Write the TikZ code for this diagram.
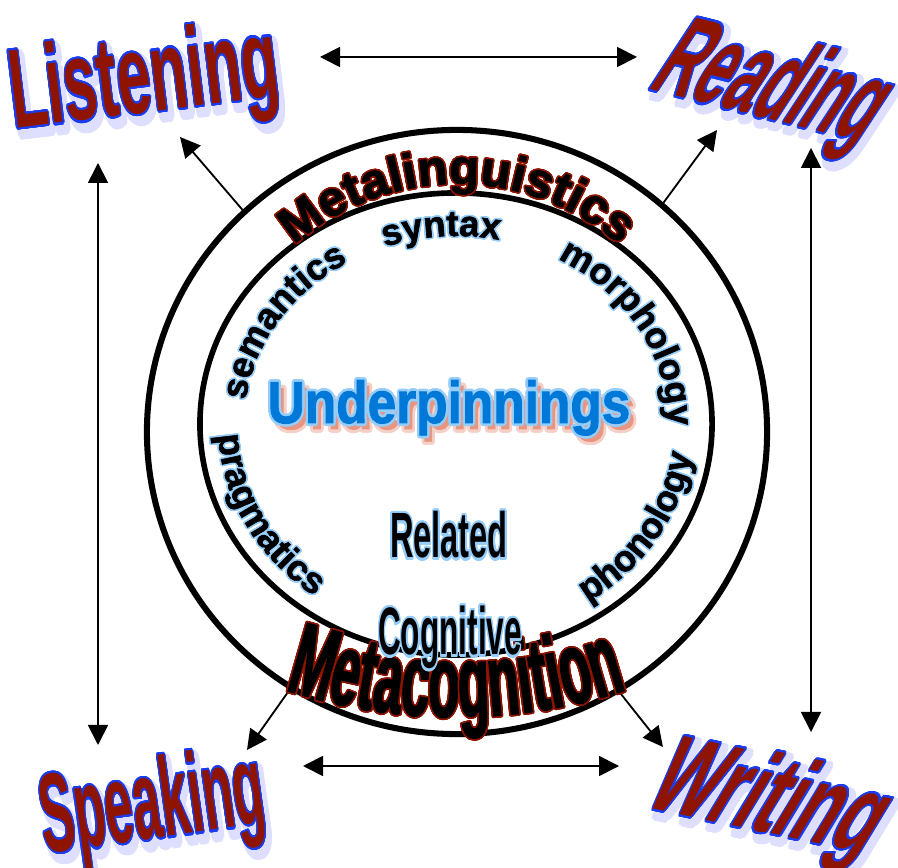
\documentclass[tikz,border=0pt]{standalone}
\usepackage{fontspec}
\usepackage{contour}
\usetikzlibrary{arrows.meta,shapes.geometric,decorations.text}

\setmainfont{Liberation Sans}
\newfontfamily\heavyfont{Liberation Sans Bold}[FakeBold=1.6]
\newfontfamily\narrowfont{Liberation Sans Bold}[FakeStretch=0.5,FakeBold=1.4]

\definecolor{wordred}{RGB}{142,20,0}
\definecolor{wordblue}{RGB}{25,60,240}
\definecolor{haze}{RGB}{222,222,255}
\definecolor{skyline}{RGB}{150,205,250}
\definecolor{pinblue}{RGB}{0,120,215}
\definecolor{pinshadow}{RGB}{232,150,130}

\contournumber{24}

% outlined text
\newcommand{\skillword}[1]{\contourlength{1.6pt}\contour{wordblue}{\textcolor{wordred}{#1}}}
\newcommand{\skillhaze}[1]{\contourlength{4.5pt}\contour{haze}{\textcolor{haze}{#1}}}
\newcommand{\metaletter}[1]{\contourlength{1.1pt}\contour{wordred}{\textcolor{black}{#1}}}
\newcommand{\subletter}[1]{\contourlength{1.1pt}\contour{skyline}{\textcolor{black}{#1}}}
\newcommand{\skyword}[1]{\contourlength{1.8pt}\contour{skyline}{#1}}

\begin{document}
\begin{tikzpicture}[x=0.025cm,y=0.025cm,
    skill/.style={anchor=base,inner sep=0pt,font=\fontsize{80}{80}\selectfont\bfseries},
    link/.style={{Triangle[length=0.5cm,width=0.5cm]}-{Triangle[length=0.5cm,width=0.5cm]},line width=1.3pt},
    branch/.style={-{Triangle[length=0.5cm,width=0.5cm]},line width=1.3pt},
    subword/.style={decoration={text effects along path,text={#1},text align=center,
        text effects/.cd,text along path,character command=\subletter,
        characters={font=\fontsize{26}{26}\heavyfont}},decorate},
    metaword/.style={decoration={text effects along path,text={#1},text align=center,
        text effects/.cd,text along path,character command=\metaletter,
        characters={font=\fontsize{35}{35}\heavyfont}},decorate}]
    \useasboundingbox (0,0) rectangle (898,867);

    % Rings
    \node[ellipse,draw,line width=4.3pt,inner sep=0pt,minimum width=15.5cm,minimum height=15.1cm] (outer) at (457,435) {};
    \node[ellipse,draw,line width=4pt,inner sep=0pt,minimum width=12.8cm,minimum height=11.55cm] (inner) at (456,443) {};

    % Skills (haze first)
    \node[skill,rotate=7,text=haze] at (152,749) {\scalebox{0.54}[1]{\skillhaze{Listening}}};
    \node[skill,rotate=7] (listening) at (148,755) {\scalebox{0.54}[1]{\skillword{Listening}}};
    \node[skill,rotate=-14,xslant=0.35,text=haze] at (758,746) {\scalebox{0.5}[1.04]{\skillhaze{Reading}}};
    \node[skill,rotate=-14,xslant=0.35] (reading) at (754,752) {\scalebox{0.5}[1.04]{\skillword{Reading}}};
    \node[skill,rotate=8,text=haze] at (161,23) {\scalebox{0.45}[1]{\skillhaze{Speaking}}};
    \node[skill,rotate=8] (speaking) at (157,29) {\scalebox{0.45}[1]{\skillword{Speaking}}};
    \node[skill,rotate=-12,xslant=0.35,text=haze] at (757,31) {\scalebox{0.59}[1]{\skillhaze{Writing}}};
    \node[skill,rotate=-12,xslant=0.35] (writing) at (753,37) {\scalebox{0.59}[1]{\skillword{Writing}}};

    % Arrow ends
    \coordinate (lr-l) at (320,810);
    \coordinate (lr-r) at (637,810);
    \coordinate (sw-l) at (303,101);
    \coordinate (sw-r) at (619,101);
    \coordinate (ls-t) at (98,704);
    \coordinate (ls-b) at (98,122);
    \coordinate (rw-t) at (811,719);
    \coordinate (rw-b) at (811,135);
    \coordinate (to-listening) at (180,730);
    \coordinate (to-reading) at (717,737);
    \coordinate (to-speaking) at (247,117);
    \coordinate (to-writing) at (663,120);

    \draw[link] (lr-l) -- (lr-r);
    \draw[link] (sw-l) -- (sw-r);
    \draw[link] (ls-t) -- (ls-b);
    \draw[link] (rw-t) -- (rw-b);
    \draw[branch] (outer.134.5) -- (to-listening);
    \draw[branch] (outer.48.5) -- (to-reading);
    \draw[branch] (outer.237.3) -- (to-speaking);
    \draw[branch] (outer.302) -- (to-writing);

    % Outer ring words
    \path[metaword=Metalinguistics] (457,435) ++(136:248) arc[start angle=136,end angle=44,radius=248];
    \path[decoration={text effects along path,text={Metacognition},text align=center,
        text effects/.cd,text along path,character command=\metaletter,
        characters={font=\fontsize{73}{73}\narrowfont}},decorate]
      (456,700) ++(250:550) arc[start angle=250,end angle=290,radius=550];

    % Inner ring words
    \path[subword=syntax] (456,443) ++(116:212 and 188) arc[start angle=116,end angle=72,x radius=212,y radius=188];
    \path[subword=semantics] (456,443) ++(180:212 and 188) arc[start angle=180,end angle=114,x radius=212,y radius=188];
    \path[subword=morphology] (456,443) ++(70:212 and 188) arc[start angle=70,end angle=-10,x radius=212,y radius=188];
    \path[subword=pragmatics] (456,443) ++(176:238 and 214) arc[start angle=176,end angle=240,x radius=238,y radius=214];
    \path[subword=phonology] (456,443) ++(298:238 and 214) arc[start angle=298,end angle=358,x radius=238,y radius=214];

    % Centre
    \node[anchor=base,inner sep=0pt,font=\fontsize{42}{42}\heavyfont,text=pinshadow] at (454,438) {\scalebox{0.87}[1]{\contourlength{2.2pt}\contour{pinshadow!45}{Underpinnings}}};
    \node[anchor=base,inner sep=0pt,font=\fontsize{42}{42}\heavyfont,text=pinblue] (under) at (449,444) {\scalebox{0.87}[1]{\skyword{Underpinnings}}};
    \node[anchor=base,inner sep=0pt,font=\fontsize{45.5}{46}\selectfont\bfseries] (related) at (449,309) {\scalebox{0.51}[1]{\skyword{Related}}};
    \node[anchor=base,inner sep=0pt,font=\fontsize{47.7}{48}\selectfont\bfseries] (cognitive) at (450,212) {\scalebox{0.47}[1]{\skyword{Cognitive}}};
\end{tikzpicture}
\end{document}
